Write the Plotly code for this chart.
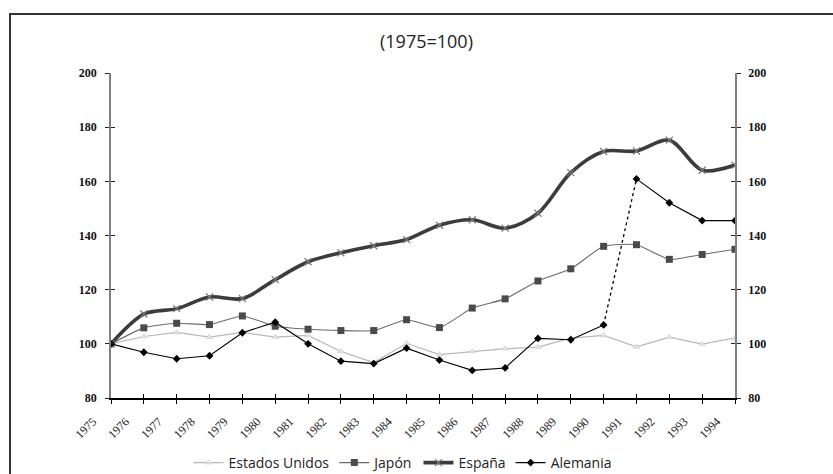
import plotly.graph_objects as go

years = list(range(1975, 1995))
estados_unidos = [100, 102.7, 104.2, 102.5, 104.2, 102.5, 103.1, 97.2, 93.1, 100.2,
                  96.0, 97.2, 98.2, 98.8, 102.1, 103.1, 98.9, 102.5, 99.9, 102.2]
japon = [100, 105.9, 107.6, 107.1, 110.3, 106.5, 105.4, 104.9, 104.9, 108.9,
         106.0, 113.2, 116.6, 123.2, 127.7, 136.0, 136.6, 131.2, 133.0, 134.9]
espana = [100, 111.0, 113.0, 117.3, 116.7, 123.7, 130.3, 133.6, 136.2, 138.5,
          143.8, 145.8, 142.7, 148.2, 163.2, 171.0, 171.2, 175.2, 164.1, 166.0]
alemania = [100, 96.9, 94.5, 95.6, 104.1, 108.0, 100.0, 93.6, 92.7, 98.4,
            94.0, 90.2, 91.1, 102.0, 101.5, 107.0, 160.9, 152.1, 145.5, 145.5]
y_ticks = [80, 100, 120, 140, 160, 180, 200]
title_text = "(1975=100)"

W, H = 833, 474
L, R, T, B = 111, 735, 73, 398
pw, ph = R - L, B - T


def px(x):
    return (x - L) / pw


def py(y):
    return (B - y) / ph


fig = go.Figure()
fig.add_trace(go.Scatter(
    x=years, y=estados_unidos, name="Estados Unidos", mode="lines+markers",
    line=dict(color="#b8b8b8", width=1.2),
    marker=dict(symbol="triangle-up", size=6, color="#e2e2e2",
                line=dict(color="#c8c8c8", width=0.5))))
fig.add_trace(go.Scatter(
    x=years, y=japon, name="Japón", mode="lines+markers",
    line=dict(color="#6a6a6a", width=1.1, shape="spline", smoothing=0.5),
    marker=dict(symbol="square", size=7, color="#4a4a4a")))
fig.add_trace(go.Scatter(
    x=years, y=espana, name="España", mode="lines+markers",
    line=dict(color="#3c3c3c", width=3.6, shape="spline", smoothing=0.9),
    marker=dict(symbol="x-thin", size=7, line=dict(color="#777777", width=1.2))))
# Alemania: solid before and after reunification, dotted join
split = years.index(1990)
fig.add_trace(go.Scatter(
    x=years[:split + 1], y=alemania[:split + 1], name="Alemania", mode="lines+markers",
    legendgroup="al",
    line=dict(color="#000000", width=1.1),
    marker=dict(symbol="diamond", size=6, color="#000000")))
fig.add_trace(go.Scatter(
    x=years[split:split + 2], y=alemania[split:split + 2], mode="lines",
    legendgroup="al", showlegend=False,
    line=dict(color="#000000", width=1.3, dash="dot")))
fig.add_trace(go.Scatter(
    x=years[split + 1:], y=alemania[split + 1:], mode="lines+markers",
    legendgroup="al", showlegend=False,
    line=dict(color="#000000", width=1.1),
    marker=dict(symbol="diamond", size=6, color="#000000")))

# empty helper traces so the secondary / tick-overlay axes get drawn
for xa, ya in [("x", "y2"), ("x2", "y"), ("x", "y3"), ("x", "y4")]:
    fig.add_trace(go.Scatter(x=[], y=[], xaxis=xa, yaxis=ya, showlegend=False,
                             hoverinfo="skip", mode="lines"))

yfont = dict(family="Liberation Serif", size=12, color="#111111", weight="bold")
xfont = dict(family="Liberation Serif", size=12, color="#222222")

fig.update_layout(
    width=W, height=H,
    margin=dict(l=L, r=W - R, t=T, b=H - B, pad=0, autoexpand=False),
    paper_bgcolor="white", plot_bgcolor="white",
    showlegend=True,
    legend=dict(orientation="h", x=px(403), xanchor="center", y=py(463), yanchor="middle",
                font=dict(family="Open Sans", size=14, color="#222222"),
                bgcolor="rgba(0,0,0,0)", itemwidth=30, tracegroupgap=0),
    xaxis=dict(range=[1975, 1994], tickvals=years, ticktext=[str(y) for y in years],
               tickangle=-45, tickfont=xfont, ticks="outside", ticklen=4,
               tickcolor="#000000", tickwidth=1.2,
               showline=True, linecolor="#000000", linewidth=1.5,
               showgrid=False, zeroline=False, automargin=False,
               ticklabelstandoff=6, ticklabelshift=-18),
    xaxis2=dict(range=[1975, 1994], overlaying="x", anchor="y", side="bottom", tickvals=years,
                ticks="inside", ticklen=4, tickcolor="#000000", tickwidth=1.2,
                showticklabels=False, showline=False, showgrid=False, zeroline=False),
    yaxis=dict(range=[80, 200], tickvals=y_ticks, ticktext=[str(v) for v in y_ticks],
               tickfont=yfont, ticks="outside", ticklen=4, tickcolor="#222222", tickwidth=1.2,
               showline=True, linecolor="#808080", linewidth=1.5, automargin=False,
               showgrid=False, zeroline=False, ticklabelstandoff=6),
    yaxis2=dict(range=[80, 200], overlaying="y", side="right", anchor="x",
                tickvals=y_ticks, ticktext=[str(v) for v in y_ticks],
                tickfont=yfont, ticks="outside", ticklen=4, tickcolor="#222222", tickwidth=1.2,
                showline=True, linecolor="#808080", linewidth=1.5, automargin=False,
                showgrid=False, zeroline=False, ticklabelstandoff=5),
    yaxis3=dict(range=[80, 200], overlaying="y", side="left", anchor="x", tickvals=y_ticks,
                ticks="inside", ticklen=4, tickcolor="#222222", tickwidth=1.2,
                showticklabels=False, showline=False, showgrid=False, zeroline=False),
    yaxis4=dict(range=[80, 200], overlaying="y", side="right", anchor="x", tickvals=y_ticks,
                ticks="inside", ticklen=4, tickcolor="#222222", tickwidth=1.2,
                showticklabels=False, showline=False, showgrid=False, zeroline=False),
    annotations=[dict(text=title_text, xref="paper", yref="paper", x=px(426), y=py(41),
                      xanchor="center", yanchor="middle", showarrow=False,
                      font=dict(family="Open Sans", size=18, color="#222222"))],
    shapes=[dict(type="rect", xref="paper", yref="paper",
                 x0=px(10), x1=px(840), y0=py(480), y1=py(14),
                 line=dict(color="#333333", width=2), layer="below")],
)

fig.write_html(
    "out.html",
    config={"displayModeBar": False},
    post_script="document.body.style.margin='0';document.body.style.overflow='hidden';",
)
